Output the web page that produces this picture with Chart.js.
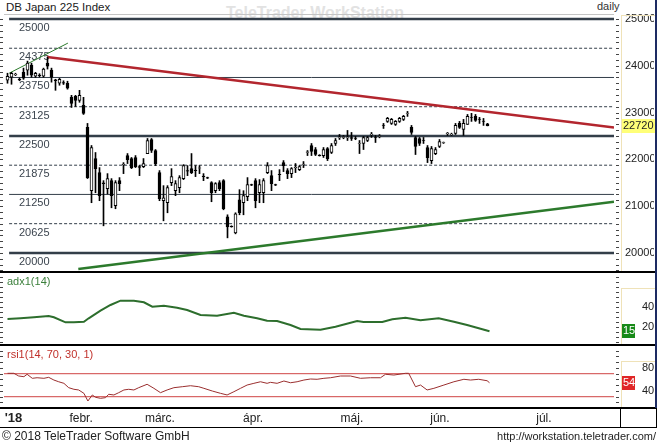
<!DOCTYPE html>
<html>
<head>
<meta charset="utf-8">
<title>DB Japan 225 Index</title>
<script src="https://cdn.jsdelivr.net/npm/chart.js@4.4.1/dist/chart.umd.min.js"></script>
<style>
  body { margin: 0; background: #fff; }
  #wrap { position: relative; width: 658px; height: 445px; overflow: hidden; background: #fff;
          font-family: "Liberation Sans", Arial, sans-serif; color: #222; }
  #wrap canvas { position: absolute; left: 0; }
  .txt { position: absolute; white-space: nowrap; }
  .ln { position: absolute; }
</style>
</head>
<body>
<div id="wrap">
  <div class="txt" style="left:6px;top:1px;font-size:11.5px;color:#1a1a1a">DB Japan 225 Index</div>
  <div class="txt" style="left:226px;top:4px;font-size:16px;font-weight:bold;color:#e2e2e2">TeleTrader WorkStation</div>
  <div class="txt" style="left:597px;top:0px;font-size:11px;color:#333">daily</div>

  <canvas id="main" width="658" height="272" style="top:0"></canvas>
  <canvas id="adx" width="658" height="71" style="top:273px"></canvas>
  <canvas id="rsi" width="658" height="82" style="top:346px"></canvas>

  <div class="txt" style="left:7px;top:275px;font-size:11px;color:#3b7f3b">adx1(14)</div>
  <div class="txt" style="left:7px;top:348px;font-size:11px;color:#c0302a">rsi1(14, 70, 30, 1)</div>

  <div class="ln" style="left:0;top:271px;width:656px;height:2px;background:#000"></div>
  <div class="ln" style="left:0;top:344px;width:656px;height:2px;background:#000"></div>
  <div class="ln" style="left:0;top:407px;width:657px;height:2px;background:#000"></div>
  <div class="ln" style="left:0;top:427px;width:657px;height:1px;background:#000"></div>
  <div class="ln" style="left:620px;top:408px;width:1px;height:20px;background:#000"></div>
  <div class="ln" style="left:655px;top:0;width:2px;height:408px;background:#1d2b63"></div>
  <div class="ln" style="left:656px;top:408px;width:1px;height:20px;background:#000"></div>

  <div class="ln" style="left:621px;top:15px;width:1px;height:256px;background:#efe2b8"></div>
  <div class="ln" style="left:621px;top:15px;width:34px;height:1px;background:#efe2b8"></div>
  <div class="ln" style="left:621px;top:288px;width:1px;height:56px;background:#efe2b8"></div>
  <div class="ln" style="left:621px;top:288px;width:34px;height:1px;background:#efe2b8"></div>
  <div class="ln" style="left:621px;top:361px;width:1px;height:46px;background:#efe2b8"></div>
  <div class="ln" style="left:621px;top:361px;width:34px;height:1px;background:#efe2b8"></div>

  <div class="txt" style="left:2px;top:429px;font-size:12px;color:#222">&copy; 2018 TeleTrader Software GmbH</div>
  <div class="txt" style="right:2px;top:430px;font-size:11px;color:#222">http://workstation.teletrader.com/</div>
</div>

<script>
var F = '"Liberation Sans", Arial, sans-serif';

// x positions are trading-day indexes
var xMin = -0.875, xMax = 151.625;

var openP = [23691,23755,23810,23710,23860,23906,24013,23777,23800,23777,
  24056,23906,23700,23627,23640,23627,23326,23347,23262,23154,
  22682,21330,22017,21717,21500,21373,21545,21008,21545,21880,
  22081,22017,22040,21845,21845,22124,22425,22189,21717,21116,
  21073,21502,21330,21395,21588,21760,21802,21770,21810,21640,
  21610,21502,21330,21502,21545,20772,20570,20429,21137,21073,
  21202,21459,21545,21287,21287,21717,21652,21460,21680,21930,
  21760,21695,21820,21781,21890,22150,22296,22210,22090,22081,
  22232,22146,22339,22460,22470,22460,22468,22450,22340,22339,
  22403,22530,22470,22490,22730,22811,22768,22746,22811,22854,
  22980,22682,22468,22446,22403,22253,21974,22124,22275,22350,
  22550,22530,22554,22768,22640,22746,22900,22918,22860,22820,
  22760]
var highP = [23841,23860,23841,23740,23950,24100,24056,23860,23830,23950,
  24185,23950,23712,23733,23680,23670,23369,23369,23476,23326,
  22768,22296,22146,21824,21545,21695,21588,21545,21610,21930,
  22124,22040,22081,21870,22017,22446,22446,22210,21760,21438,
  21438,21802,21545,21652,21888,21867,22124,21867,21867,21695,
  21620,21523,21502,21545,21567,20815,20580,20858,21352,21330,
  21610,21470,21588,21567,21588,21931,21760,21470,21780,21974,
  21802,21824,21910,21867,21953,22189,22339,22253,22100,22253,
  22253,22339,22446,22532,22510,22618,22575,22490,22403,22490,
  22490,22575,22511,22530,22768,22897,22875,22830,22897,22940,
  23025,22725,22490,22468,22468,22296,22275,22253,22425,22370,
  22575,22560,22768,22811,22854,22960,22983,22960,22897,22875,
  22770]
var lowP = [23627,23605,23790,23680,23710,23798,23755,23750,23760,23755,
  23930,23650,23476,23584,23600,23500,23110,23130,23220,22960,
  21590,21073,21287,21116,20579,21260,20965,20944,21330,21695,
  21910,21802,21824,21652,21824,22124,22146,21867,21116,20686,
  20858,21438,21223,21287,21567,21652,21695,21631,21695,21545,
  21590,21094,21287,21330,20922,20322,20550,20408,20815,20815,
  21116,21440,20965,21073,21073,21695,21330,21440,21545,21738,
  21588,21610,21717,21760,21824,22081,22081,22081,22070,22040,
  21974,22124,22296,22425,22440,22403,22403,22420,22124,22210,
  22380,22468,22360,22460,22660,22790,22746,22725,22790,22830,
  22918,22532,22103,22296,22339,21931,21910,22100,22253,22340,
  22511,22510,22532,22660,22511,22746,22811,22811,22768,22725,
  22715]
var closeP = [23777,23841,23820,23700,23735,24056,23798,23841,23790,23927,
  23990,23755,23680,23712,23630,23519,23197,23262,23369,22983,
  21610,22253,21802,21223,21480,21588,21223,21502,21481,21900,
  21995,21824,21845,21830,21910,22403,22189,21910,21159,21180,
  21395,21631,21481,21610,21867,21750,21717,21760,21820,21630,
  21600,21287,21481,21373,20944,20558,20560,20837,20858,21223,
  21459,21450,21116,21459,21545,21867,21481,21450,21670,21867,
  21695,21802,21830,21845,21900,22160,22167,22103,22081,22210,
  22017,22296,22403,22468,22480,22468,22446,22446,22350,22468,
  22468,22540,22468,22500,22725,22875,22854,22811,22875,22918,
  22990,22575,22275,22339,22400,22038,22232,22210,22382,22360,
  22560,22540,22725,22682,22768,22918,22897,22833,22854,22811,
  22720]

var priceTicks = [20000, 21000, 22000, 23000, 24000, 25000]
var levels = [25000, 24375, 23750, 23125, 22500, 21875, 21250, 20625, 20000]
var levelStyle = ['thick', 'dash', 'thin', 'dash', 'thick', 'dash', 'thin', 'dash', 'thick']
var levelStart = 0.4

var redTrendIdx = [9.9, 151.625], redTrendVal = [24190, 22682]
var greenTrendIdx = [17.7, 151.625], greenTrendVal = [19657, 21094]
var thinTrendIdx = [0.4, 15.1], thinTrendVal = [23841, 24485]

var adxIdx = [0, 3.25, 6.6, 10.3, 11.6, 14.5, 16.6, 19.1, 20.3, 23.25, 25.75, 28.25, 31.6, 34.1, 36.2,
  39.1, 42.4, 44.9, 48.25, 52.4, 56.6, 59.1, 62.4, 64.9, 67.4, 70.75, 73.25, 78.25, 82, 87.4,
  89, 93.7, 96.2, 99.5, 103.25, 107.8, 111.6, 114.9, 120.5]
var adxVal = [27.7, 28.4, 29.4, 30.7, 29.4, 24.4, 24.4, 25, 28.4, 36, 41.7, 46, 46, 44.4, 40,
  41, 39, 36.7, 31.7, 31, 34, 31, 28.4, 26, 25.7, 21.7, 17.7, 17, 20, 25.7,
  24.7, 24.7, 27.4, 29, 26.4, 28.4, 25, 21.7, 15.4]
var adxTicks = [20, 40]

var rsiIdx = [0, 1.6, 2.8, 4.1, 4.9, 6.2, 7.4, 9.1, 10.3, 11.6, 12.8, 14.1, 15.3, 16.6, 17.8, 19.1,
  20.1, 21.2, 22, 23.25, 24.5, 25.3, 26.6, 27.8, 29.1, 30.3, 31.6, 32.8, 34.9, 36.6, 38.25,
  39.9, 41.6, 43.7, 45.75, 47.8, 49.1, 51.2, 53.25, 54.9, 56.6, 58.25, 59.9, 61.6, 63.25,
  64.9, 65.75, 67.4, 69.1, 70.75, 72.4, 74.1, 75.75, 77.4, 79.1, 80.75, 83.25, 85.75, 88.25,
  90.75, 93.25, 94.5, 96.6, 99.5, 100.3, 102, 103.25, 104.9, 106.6, 109.1, 111.6, 114.1,
  115.75, 117.8, 119.9, 120.5]
var rsiVal = [70.7, 70.7, 66, 64.8, 69, 62, 63, 62, 63.7, 59, 56, 53.3, 45.7, 42.9, 41.7, 35.9,
  22.5, 33, 29, 27.2, 28.3, 34.2, 33, 37, 41.7, 42.9, 41.7, 45.7, 51.6, 44.6, 37,
  41.7, 45.7, 47.4, 49.1, 47.4, 44.6, 39.9, 35.9, 33, 38.7, 44.6, 50.3, 53.3, 56,
  53.3, 55, 53.3, 57.3, 54.3, 56, 59, 60.8, 60.3, 62, 63, 66, 66, 62,
  63, 63, 69, 67.7, 70.7, 70.7, 47.4, 50.3, 41.7, 44.6, 50.3, 56, 60.3,
  59, 60.3, 57.8, 54.3]
var rsiTicks = [40, 80]
var rsiBands = [70, 30]

var monthIdx = [1.5, 18.4, 38.1, 61.4, 86.1, 108.1, 134.1]
var monthLabels = ["'18", 'febr.', 'márc.', 'ápr.', 'máj.', 'jún.', 'júl.']

function pts(xs, ys) {
  return xs.map(function(x, i) { return {x: x, y: ys[i]} })
}

function sideTicks(chart, step, from) {
  var ctx = chart.ctx, y = chart.scales.y, a = chart.chartArea
  ctx.save()
  ctx.strokeStyle = '#444'
  ctx.lineWidth = 1
  ctx.beginPath()
  for (var v = from; v <= y.max; v += step) {
    if (v < y.min) continue
    var py = Math.round(y.getPixelForValue(v)) + 0.5
    ctx.moveTo(0, py); ctx.lineTo(3, py)
    ctx.moveTo(a.right + 2, py); ctx.lineTo(a.right + 5, py)
  }
  ctx.stroke()
  ctx.restore()
}

function valueBox(chart, value, text, bg, fg, w) {
  var ctx = chart.ctx, py = chart.scales.y.getPixelForValue(value)
  ctx.save()
  ctx.fillStyle = bg
  ctx.fillRect(621, Math.round(py) - 7, w, 14)
  ctx.fillStyle = fg
  ctx.font = '11px ' + F
  ctx.textBaseline = 'middle'
  ctx.textAlign = 'left'
  ctx.fillText(text, 623, Math.round(py))
  ctx.restore()
}

function yAxis(min, max, tickList, pad) {
  return {
    position: 'right', min: min, max: max,
    afterBuildTicks: function(s) { s.ticks = tickList.map(function(v) { return {value: v} }) },
    afterFit: function(s) { s.width = 40; s.paddingTop = 0; s.paddingBottom = 0 },
    grid: {display: false, drawTicks: false},
    border: {display: false},
    ticks: {padding: pad, color: '#222', font: {size: 11, family: F},
      callback: function(v) { return String(v) }}
  }
}

var baseOpts = function(padTop) {
  return {
    responsive: false, maintainAspectRatio: false, animation: false,
    events: [],
    layout: {padding: {left: 4, right: 4, top: padTop, bottom: 0}},
    plugins: {legend: {display: false}, tooltip: {enabled: false}}
  }
}

// main price panel
var bodies = [], wicks = []
for (var i = 0; i < closeP.length; i++) {
  bodies.push({x: i, y: [openP[i], closeP[i]]})
  wicks.push({x: i, y: [lowP[i], highP[i]]})
}

var mainSets = [
  {type: 'bar', data: bodies, barThickness: 3, grouped: false, order: 1,
    borderColor: '#000', borderWidth: 1, borderSkipped: false,
    backgroundColor: function(c) { var r = c.raw; return r && r.y[1] < r.y[0] ? '#000' : '#fff' }},
  {type: 'bar', data: wicks, barThickness: 1, grouped: false, order: 2, backgroundColor: '#000'},
  {type: 'line', data: pts(redTrendIdx, redTrendVal), borderColor: '#b3262e', borderWidth: 2.5, pointRadius: 0, order: 3},
  {type: 'line', data: pts(greenTrendIdx, greenTrendVal), borderColor: '#2c7a2c', borderWidth: 2.5, pointRadius: 0, order: 3},
  {type: 'line', data: pts(thinTrendIdx, thinTrendVal), borderColor: '#2c7a2c', borderWidth: 1, pointRadius: 0, order: 3}
]
levels.forEach(function(lv, k) {
  var st = levelStyle[k]
  mainSets.push({type: 'line', data: [{x: levelStart, y: lv}, {x: xMax, y: lv}],
    borderColor: '#333e49', borderWidth: st == 'thick' ? 2.5 : 1,
    borderDash: st == 'dash' ? [3, 2] : [], pointRadius: 0, order: 4})
})

var mainDecor = {
  id: 'mainDecor',
  beforeDatasetsDraw: function(chart) {
    var ctx = chart.ctx, y = chart.scales.y
    ctx.save()
    ctx.fillStyle = '#3b444e'
    ctx.font = '11px ' + F
    ctx.textBaseline = 'middle'
    levels.forEach(function(lv) {
      ctx.fillText(String(lv), 19, Math.round(y.getPixelForValue(lv)) + 9)
    })
    ctx.restore()
  },
  afterDraw: function(chart) {
    var ctx = chart.ctx, a = chart.chartArea
    ctx.save()
    ctx.strokeStyle = '#c4c4c4'
    ctx.beginPath(); ctx.moveTo(a.left, a.top + 0.5); ctx.lineTo(a.right, a.top + 0.5); ctx.stroke()
    ctx.restore()
    sideTicks(chart, 125, 19625)
    valueBox(chart, closeP[closeP.length - 1], String(closeP[closeP.length - 1]), '#ffff78', '#222', 34)
  }
}

var o1 = baseOpts(14)
o1.scales = {
  x: {type: 'linear', min: xMin, max: xMax, display: false, offset: false},
  y: yAxis(19592, 25107, priceTicks, 11)
}
new Chart(document.getElementById('main'), {type: 'bar', data: {datasets: mainSets}, options: o1, plugins: [mainDecor]})

// adx panel
var o2 = baseOpts(0)
o2.scales = {
  x: {type: 'linear', min: xMin, max: xMax, display: false, offset: false},
  y: yAxis(2.7, 73.7, adxTicks, 28)
}
new Chart(document.getElementById('adx'), {
  type: 'line',
  data: {datasets: [{data: pts(adxIdx, adxVal), borderColor: '#2d6e2d', borderWidth: 2, pointRadius: 0}]},
  options: o2,
  plugins: [{
    id: 'adxDecor',
    afterDraw: function(chart) {
      sideTicks(chart, 5, 5)
      var last = adxVal[adxVal.length - 1]
      valueBox(chart, last, String(Math.round(last)), '#188a18', '#fff', 14)
    }
  }]
})

// rsi panel with date axis
var rsiSets = [{data: pts(rsiIdx, rsiVal), borderColor: '#9a2e2e', borderWidth: 1, pointRadius: 0, order: 1}]
rsiBands.forEach(function(b) {
  rsiSets.push({data: [{x: xMin, y: b}, {x: xMax, y: b}], borderColor: '#cf4444', borderWidth: 1, pointRadius: 0, order: 2})
})
var o3 = baseOpts(0)
o3.scales = {
  x: {
    type: 'linear', min: xMin, max: xMax, offset: false, position: 'bottom',
    afterBuildTicks: function(s) { s.ticks = monthIdx.map(function(v) { return {value: v} }) },
    afterFit: function(s) { s.height = 21; s.paddingLeft = 0; s.paddingRight = 0 },
    grid: {display: false, drawTicks: false},
    border: {display: false},
    ticks: {
      autoSkip: false, maxRotation: 0, padding: 4, color: '#222',
      font: function(c) { return c.index === 0 ? {size: 13, weight: 'bold', family: F} : {size: 12, family: F} },
      callback: function(v, i) { return monthLabels[i] }
    }
  },
  y: yAxis(12.1, 118.2, rsiTicks, 28)
}
new Chart(document.getElementById('rsi'), {
  type: 'line',
  data: {datasets: rsiSets},
  options: o3,
  plugins: [{
    id: 'rsiDecor',
    afterDraw: function(chart) {
      sideTicks(chart, 10, 20)
      var last = rsiVal[rsiVal.length - 1]
      valueBox(chart, last, String(Math.round(last)), '#e02626', '#fff', 14)
    }
  }]
})
</script>
</body>
</html>
